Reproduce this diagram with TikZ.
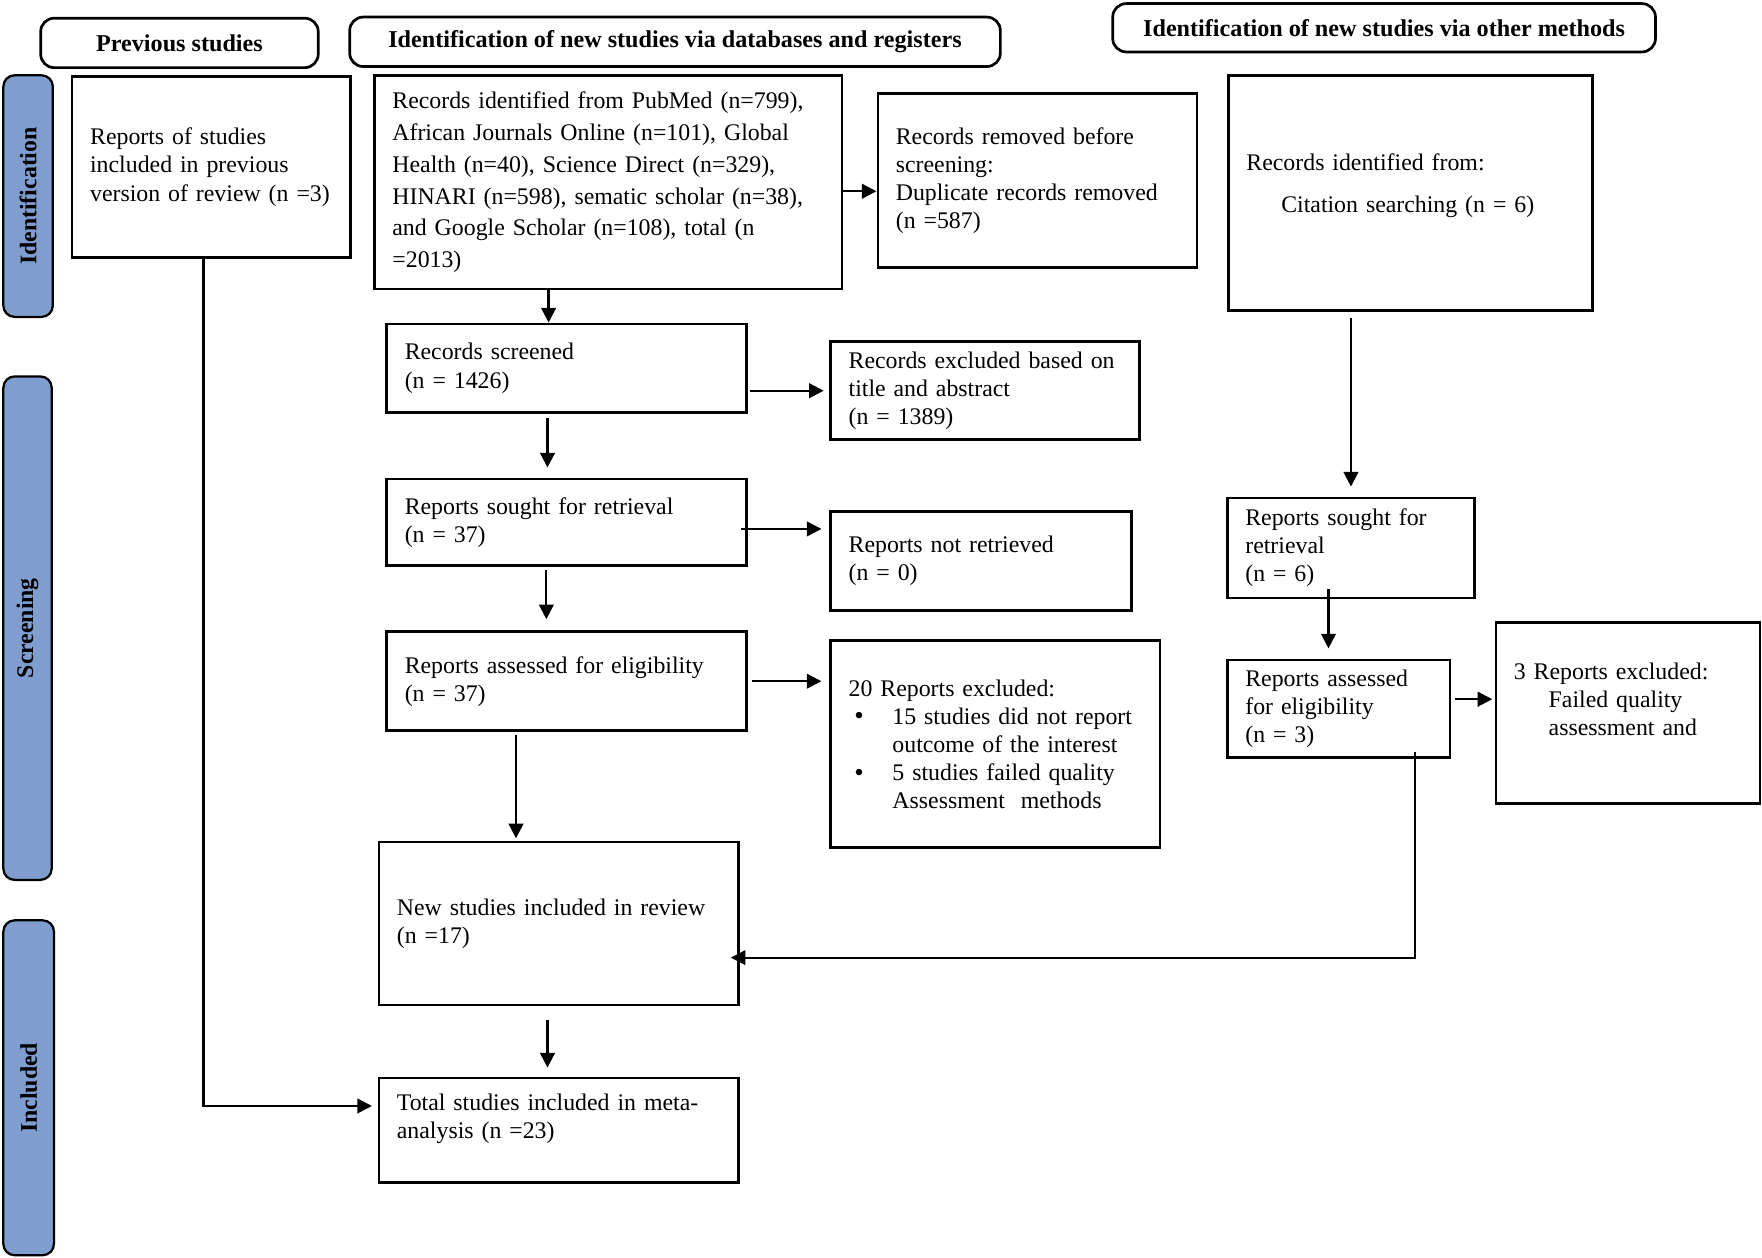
\documentclass[tikz,border=0pt]{standalone}
\usepackage{fontspec}
\setmainfont{Liberation Serif}
\usepackage{tikz}
\usetikzlibrary{shapes,arrows,arrows.meta,positioning}
\definecolor{barblue}{RGB}{127,158,207}
\tikzstyle{caja} = [draw, line width=1.2pt, rectangle, align=left, inner xsep=8pt, inner ysep=0pt, anchor=north west]
\tikzstyle{titulo} = [draw, line width=1.2pt, rectangle, rounded corners=6pt, anchor=north west, font=\fontsize{10.75}{13}\selectfont\bfseries, inner sep=0pt]
\tikzstyle{fase} = [draw, line width=1pt, fill=barblue, rectangle, rounded corners=5pt, rotate=90, font=\fontsize{10.6}{13}\selectfont\bfseries, inner sep=0pt]
\tikzstyle{flecha} = [line width=1pt, -{Triangle[length=6.5pt,width=6.5pt]}]
\newcommand{\sangria}{\hspace*{15.5pt}}
\newcommand{\punto}{\hspace*{2.5pt}\makebox[17pt][l]{\raisebox{-0.3pt}{\large\textbullet}}}
\begin{document}
\begin{tikzpicture}[x=0.5pt, y=-0.5pt, font=\fontsize{10.6}{12.5}\selectfont]
\useasboundingbox (0,0) rectangle (1568,1119);
% column titles
\node[titulo, minimum width=123.5pt, minimum height=22pt] (hprev) at (35,15) {Previous studies};
\node[titulo, minimum width=289.5pt, minimum height=22pt] (hdb) at (310,14) {Identification of new studies via databases and registers};
\node[titulo, minimum width=241.5pt, minimum height=21.5pt] (hother) at (989,2) {Identification of new studies via other methods};
% phases
\node[fase, minimum width=107.5pt, minimum height=22pt] (fident) at (25,174.5) {Identification};
\node[fase, minimum width=224pt, minimum height=21.5pt] (fscreen) at (24.5,559) {Screening};
\node[fase, minimum width=149pt, minimum height=22.5pt] (fincl) at (25.5,968) {Included};
% previous studies
\node[caja, text width=108pt, minimum height=80.5pt] (prev) at (63,67) {Reports of studies\\ included in previous\\ version of review (n =3)};
% databases and registers
\node[caja, text width=192pt, minimum height=95pt, font=\fontsize{10.6}{14.2}\selectfont] (dbid) at (332,66) {Records identified from PubMed (n=799),\\ African Journals Online (n=101), Global\\ Health (n=40), Science Direct (n=329),\\ HINARI (n=598), sematic scholar (n=38),\\ and Google Scholar (n=108), total (n\\ =2013)};
\node[caja, text width=126pt, minimum height=77.5pt] (removed) at (780,82) {Records removed before\\ screening:\\ Duplicate records removed\\ (n =587)};
\node[caja, text width=144pt, minimum height=39.5pt] (screened) at (343,287) {Records screened\\ (n = 1426)};
\node[caja, text width=121.5pt, minimum height=43.5pt] (excltitle) at (738,303) {Records excluded based on\\ title and abstract\\ (n = 1389)};
\node[caja, text width=144pt, minimum height=38.5pt] (sought) at (343,425) {Reports sought for retrieval\\ (n = 37)};
\node[caja, text width=118pt, minimum height=44pt] (notretr) at (738,454) {Reports not retrieved\\ (n = 0)};
\node[caja, text width=144pt, minimum height=44pt] (assessed) at (343,561) {Reports assessed for eligibility\\ (n = 37)};
\node[caja, text width=130.5pt, minimum height=92pt] (exclfull) at (738,569) {20 Reports excluded:\\
  \punto 15 studies did not report\\
  \hspace*{19.5pt}outcome of the interest\\
  \punto 5 studies failed quality\\
  \hspace*{19.5pt}Assessment\ \ methods};
\node[caja, text width=144pt, minimum height=72.5pt] (newstud) at (336,748) {New studies included in review\\ (n =17)};
\node[caja, text width=144pt, minimum height=46.5pt] (total) at (336,958) {Total studies included in meta-\\ analysis (n =23)\\ \mbox{}};
% other methods
\node[caja, text width=146pt, minimum height=104.5pt] (other) at (1092,66) {Records identified from:\\[6pt] \sangria Citation searching (n = 6)\\[-4pt] \mbox{}};
\node[caja, text width=94pt, minimum height=44.5pt] (sought2) at (1091,442) {Reports sought for\\ retrieval\\ (n = 6)};
\node[caja, text width=83pt, minimum height=43.5pt] (assessed2) at (1091,586) {Reports assessed\\ for eligibility\\ (n = 3)};
\node[caja, text width=101.5pt, minimum height=80.5pt] (exclother) at (1330,553) {3 Reports excluded:\\ \sangria Failed quality\\ \sangria assessment and\\ \mbox{}};
% arrows
\draw[flecha] ([xshift=-8pt]screened.north |- dbid.south) -- ([xshift=-8pt]screened.north);
\draw[flecha] ([yshift=-4pt]dbid.east) -- ([yshift=-4pt]dbid.east -| removed.west);
\draw[flecha, shorten <=1pt, shorten >=2.5pt] (screened.east |- excltitle.west) -- (excltitle.west);
\draw[flecha, shorten <=2pt, shorten >=4.5pt] ([xshift=-8.5pt]screened.south) -- ([xshift=-8.5pt]sought.north);
\draw[flecha, shorten >=3.5pt] ([xshift=-3pt,yshift=-3pt]sought.east) -- ([yshift=-3pt]sought.east -| notretr.west);
\draw[flecha, shorten <=1.5pt, shorten >=5pt] ([xshift=-9pt]sought.south) -- ([xshift=-9pt]assessed.north);
\draw[flecha, shorten <=2pt, shorten >=3.5pt] (assessed.east) -- (assessed.east -| exclfull.west);
\draw[flecha, shorten <=1.5pt, shorten >=1pt] ([xshift=-22.5pt]assessed.south) -- ([xshift=-22.5pt]assessed.south |- newstud.north);
\draw[flecha, shorten <=6pt, shorten >=4pt] ([xshift=-5pt]newstud.south) -- ([xshift=-5pt]newstud.south |- total.north);
\draw[flecha, shorten >=2.5pt] ([xshift=-3.5pt]prev.south) |- ([yshift=10.75pt]total.west);
\draw[flecha, shorten <=3pt, shorten >=4.5pt] (sought2.north |- other.south) -- (sought2.north);
\draw[flecha, shorten <=-4.5pt, shorten >=4.5pt] ([xshift=-4.5pt]assessed2.north |- sought2.south) -- ([xshift=-4.5pt]assessed2.north);
\draw[flecha, shorten <=1.5pt, shorten >=1pt] ([yshift=4.25pt]assessed2.east) -- ([yshift=4.25pt]assessed2.east -| exclother.west);
\draw[flecha, shorten <=-3pt, shorten >=-4pt] ([xshift=34pt]assessed2.south) |- ([yshift=-15.25pt]newstud.east);
\end{tikzpicture}
\end{document}
